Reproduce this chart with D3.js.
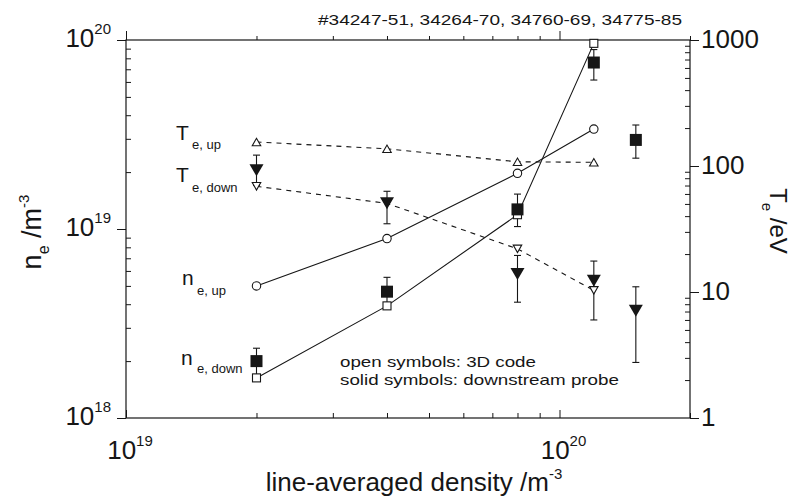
<!DOCTYPE html>
<html>
<head>
<meta charset="utf-8">
<script src="https://cdn.jsdelivr.net/npm/d3@7"></script>
<style>
  html, body { margin: 0; padding: 0; background: #fff; }
  svg { display: block; font-family: "Liberation Sans", Arial, Helvetica, sans-serif; }
</style>
</head>
<body>
<svg id="chart" width="797" height="497"></svg>
<script>
// Line-averaged density (x) for the 3D code runs and the probe measurements
const xCode = [2e19, 4e19, 8e19, 1.2e20];
const xProbe = [2e19, 4e19, 8e19, 1.2e20, 1.5e20];

// 3D code results (open symbols)
const neUpCode = [5.0e18, 8.9e18, 1.97e19, 3.38e19];
const neDownCode = [1.63e18, 3.92e18, 1.19e19, 9.6e19];
const teUpCode = [155, 137, 108, 107];
const teDownCode = [69, 50.5, 22, 10.3];

// Downstream probe (solid symbols) with error-bar limits
const neDownProbe = [2.0e18, 4.66e18, 1.27e19, 7.6e19, 2.96e19];
const neDownProbeLo = [1.7e18, 3.9e18, 1.03e19, 6.14e19, 2.37e19];
const neDownProbeHi = [2.34e18, 5.55e18, 1.53e19, 8.9e19, 3.55e19];
const teDownProbe = [92.5, 50.6, 13.9, 12.3, 7.1];
const teDownProbeLo = [70, 34.8, 8.3, 6.0, 2.76];
const teDownProbeHi = [122, 63, 19.5, 17.6, 11.0];

// Tick labels (base, exponent)
const xTickLabels = [[1e19, "10", "19"], [1e20, "10", "20"]];
const nTickLabels = [[1e18, "10", "18"], [1e19, "10", "19"], [1e20, "10", "20"]];
const tTickLabels = [[1, "1"], [10, "10"], [100, "100"], [1000, "1000"]];

const shotText = "#34247-51, 34264-70, 34760-69, 34775-85";

const svg = d3.select("#chart");
const L = 126, R = 690, T = 40, B = 418;

const x = d3.scaleLog().domain([1e19, 2e20]).range([L, R]);
const yN = d3.scaleLog().domain([1e18, 1e20]).range([B, T]);
const yT = d3.scaleLog().domain([1, 1000]).range([B, T]);

const ink = "#161616";
const isMajor = v => Math.abs(Math.log10(v) - Math.round(Math.log10(v))) < 1e-9;

// ---- axes: minor and major ticks drawn with d3 axes, frame drawn as a rect
function tickAxis(axisFn, scale, values, size, tx, ty) {
  const g = svg.append("g").attr("transform", `translate(${tx},${ty})`)
    .call(axisFn(scale).tickValues(values).tickSizeInner(size).tickSizeOuter(0).tickFormat(""));
  g.select(".domain").remove();
  g.selectAll("line").attr("stroke", ink).attr("stroke-width", 1);
  return g;
}
const xTicks = x.ticks();
const nTicks = yN.ticks();
const tTicks = yT.ticks();

// bottom: ticks point inward
tickAxis(d3.axisBottom, x, xTicks.filter(v => !isMajor(v)), -5, 0, B);
tickAxis(d3.axisBottom, x, xTicks.filter(isMajor), -8, 0, B);
// top: ticks point outward
tickAxis(d3.axisTop, x, xTicks.filter(v => !isMajor(v)), 4, 0, T);
tickAxis(d3.axisTop, x, xTicks.filter(isMajor), 9, 0, T);
// left: minor inward, major outward
tickAxis(d3.axisLeft, yN, nTicks.filter(v => !isMajor(v)), -5, L, 0);
tickAxis(d3.axisLeft, yN, nTicks.filter(isMajor), 9, L, 0);
// right: minor inward, major outward
tickAxis(d3.axisRight, yT, tTicks.filter(v => !isMajor(v)), -5, R, 0);
tickAxis(d3.axisRight, yT, tTicks.filter(isMajor), 9, R, 0);

svg.append("rect").attr("x", L).attr("y", T).attr("width", R - L).attr("height", B - T)
  .attr("fill", "none").attr("stroke", ink).attr("stroke-width", 1.2);

// ---- tick labels
function powerLabel(g, px, py, base, exp, anchor) {
  const t = g.append("text").attr("x", px).attr("y", py).attr("text-anchor", anchor)
    .attr("fill", ink).attr("font-size", 26);
  t.append("tspan").text(base);
  t.append("tspan").attr("dy", -13).attr("font-size", 15).text(exp);
  return t;
}
const labels = svg.append("g");
nTickLabels.forEach(([v, b, e]) => powerLabel(labels, 111, yN(v) + 7, b, e, "end"));
xTickLabels.forEach(([v, b, e]) => powerLabel(labels, x(v) + 4, 459, b, e, "middle"));
tTickLabels.forEach(([v, s]) => labels.append("text").attr("x", 701).attr("y", yT(v) + 8)
  .attr("fill", ink).attr("font-size", 26).text(s));

// ---- axis titles
const xt = svg.append("text").attr("x", 414).attr("y", 491).attr("text-anchor", "middle")
  .attr("fill", ink).attr("font-size", 26);
xt.append("tspan").text("line-averaged density /m");
xt.append("tspan").attr("dy", -12).attr("font-size", 15).text("-3");

const yl = svg.append("text").attr("transform", "translate(41,232) rotate(-90)")
  .attr("text-anchor", "middle").attr("fill", ink).attr("font-size", 27);
yl.append("tspan").text("n");
yl.append("tspan").attr("dy", 8).attr("font-size", 16).text("e");
yl.append("tspan").attr("dy", -8).text(" /m");
yl.append("tspan").attr("dy", -12).attr("font-size", 15).text("-3");

const yr = svg.append("text").attr("transform", "translate(770,221) rotate(90)")
  .attr("text-anchor", "middle").attr("fill", ink).attr("font-size", 24);
yr.append("tspan").text("T");
yr.append("tspan").attr("dy", 8).attr("font-size", 15).text("e");
yr.append("tspan").attr("dy", -8).text(" /eV");

// shot numbers above the frame
svg.append("text").attr("x", 318).attr("y", 25).attr("fill", ink).attr("font-size", 15)
  .attr("textLength", 364).attr("lengthAdjust", "spacingAndGlyphs").text(shotText);

// ---- connecting lines for the 3D code results
const plot = svg.append("g");
function series(vals, yScale, dashed) {
  const line = d3.line().x((d, i) => x(xCode[i])).y(d => yScale(d));
  plot.append("path").datum(vals).attr("d", line).attr("fill", "none")
    .attr("stroke", ink).attr("stroke-width", 1.1)
    .attr("stroke-dasharray", dashed ? "5,5" : null);
}
series(teUpCode, yT, true);
series(teDownCode, yT, true);
series(neUpCode, yN, false);
series(neDownCode, yN, false);

// ---- error bars for the probe data
function errorBars(vals, lo, hi, yScale) {
  const g = plot.append("g").attr("stroke", ink).attr("stroke-width", 1.1);
  vals.forEach((v, i) => {
    const cx = x(xProbe[i]);
    g.append("line").attr("x1", cx).attr("x2", cx).attr("y1", yScale(lo[i])).attr("y2", yScale(hi[i]));
    [lo[i], hi[i]].forEach(e => g.append("line").attr("x1", cx - 3.5).attr("x2", cx + 3.5)
      .attr("y1", yScale(e)).attr("y2", yScale(e)));
  });
}
errorBars(neDownProbe, neDownProbeLo, neDownProbeHi, yN);
errorBars(teDownProbe, teDownProbeLo, teDownProbeHi, yT);

// ---- symbols
function triUp(cx, cy, w, h) {
  return `M${cx - w / 2},${cy + h / 2}L${cx + w / 2},${cy + h / 2}L${cx},${cy - h / 2}Z`;
}
function triDown(cx, cy, w, h) {
  return `M${cx - w / 2},${cy - h / 2}L${cx + w / 2},${cy - h / 2}L${cx},${cy + h / 2}Z`;
}
const sym = plot.append("g");
// open symbols: 3D code
neUpCode.forEach((v, i) => sym.append("circle").attr("cx", x(xCode[i])).attr("cy", yN(v)).attr("r", 4.2)
  .attr("fill", "#fff").attr("stroke", ink).attr("stroke-width", 1.1));
neDownCode.forEach((v, i) => sym.append("rect").attr("x", x(xCode[i]) - 4).attr("y", yN(v) - 4)
  .attr("width", 8).attr("height", 8).attr("fill", "#fff").attr("stroke", ink).attr("stroke-width", 1.1));
teUpCode.forEach((v, i) => sym.append("path").attr("d", triUp(x(xCode[i]), yT(v), 8.5, 7.5))
  .attr("fill", "#fff").attr("stroke", ink).attr("stroke-width", 1.1));
teDownCode.forEach((v, i) => sym.append("path").attr("d", triDown(x(xCode[i]), yT(v), 8.5, 7.5))
  .attr("fill", "#fff").attr("stroke", ink).attr("stroke-width", 1.1));
// solid symbols: downstream probe
neDownProbe.forEach((v, i) => sym.append("rect").attr("x", x(xProbe[i]) - 6).attr("y", yN(v) - 6)
  .attr("width", 12).attr("height", 12).attr("fill", ink));
teDownProbe.forEach((v, i) => sym.append("path").attr("d", triDown(x(xProbe[i]), yT(v), 14, 12))
  .attr("fill", ink));

// ---- curve labels
function curveLabel(px, py, main, sub, subDx, subDy) {
  const g = svg.append("g").attr("fill", ink);
  g.append("text").attr("x", px).attr("y", py).attr("font-size", 21).text(main);
  g.append("text").attr("x", px + subDx).attr("y", py + subDy).attr("font-size", 13).text(sub);
}
curveLabel(176, 140, "T", "e, up", 16, 9);
curveLabel(176, 182, "T", "e, down", 16, 10);
curveLabel(182, 285, "n", "e, up", 15, 10);
curveLabel(181, 365, "n", "e, down", 16, 8);

// ---- note on symbol meaning
svg.append("text").attr("x", 340).attr("y", 367).attr("fill", ink).attr("font-size", 15)
  .attr("textLength", 196).attr("lengthAdjust", "spacingAndGlyphs").text("open symbols: 3D code");
svg.append("text").attr("x", 340).attr("y", 385).attr("fill", ink).attr("font-size", 15)
  .attr("textLength", 279).attr("lengthAdjust", "spacingAndGlyphs").text("solid symbols: downstream probe");
</script>
</body>
</html>
